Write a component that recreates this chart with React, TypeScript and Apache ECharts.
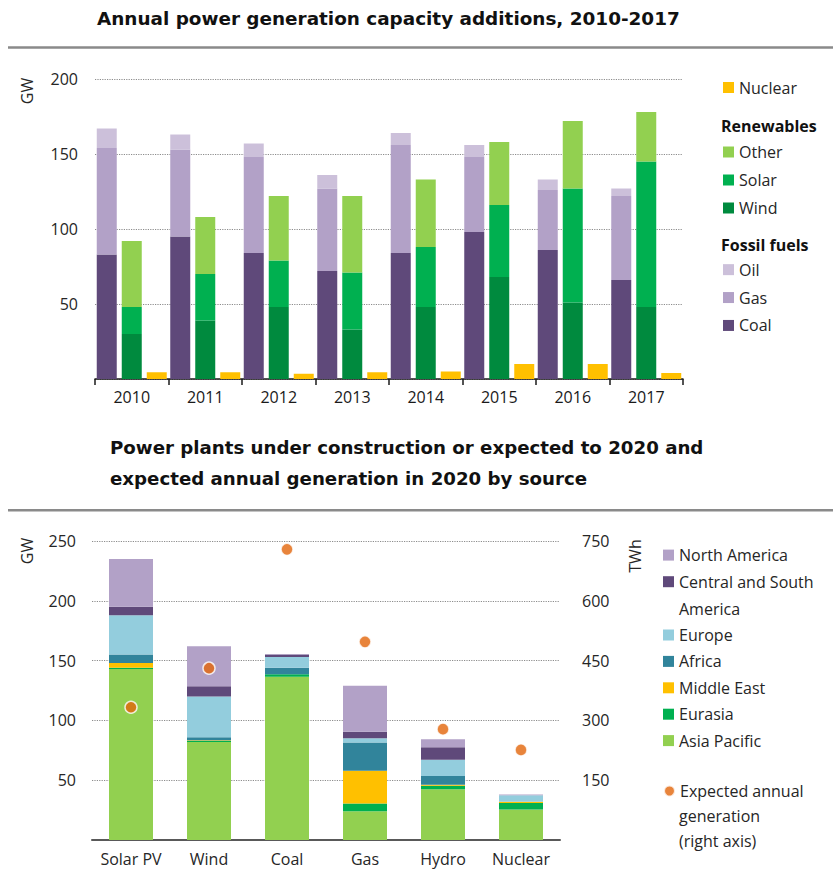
import React, { useEffect, useRef } from "react";
import * as echarts from "echarts";

// Annual capacity additions (GW)
const years = ["2010", "2011", "2012", "2013", "2014", "2015", "2016", "2017"];
const coal = [83, 95, 84, 72, 84, 98, 86, 66];
const gas = [71, 58, 64, 55, 72, 50, 40, 56];
const oil = [13, 10, 9, 9, 8, 8, 7, 5];
const wind = [30, 39, 48, 33, 48, 68, 51, 48];
const solar = [18, 31, 31, 38, 40, 48, 76, 97];
const otherRenewables = [44, 38, 43, 51, 45, 42, 45, 33];
const nuclear = [4.5, 4.5, 3.5, 4.5, 5, 10, 10, 4];
const topTicks = [0, 50, 100, 150, 200];

// Capacity under construction to 2020 by region (GW) and expected 2020 generation (TWh)
const sources = ["Solar PV", "Wind", "Coal", "Gas", "Hydro", "Nuclear"];
const asiaPacific = [143, 82, 136.5, 24, 42.5, 25.5];
const eurasia = [1, 1, 2, 6.5, 2.8, 5.5];
const middleEast = [4, 0.5, 0, 27.5, 0.8, 1];
const africa = [7, 2.5, 5.5, 23.5, 7.5, 0];
const europe = [33, 34, 9, 3.5, 13.4, 5.5];
const centralSouthAmerica = [7, 8.5, 2, 5.5, 10.6, 0];
const northAmerica = [40, 33.5, 0.5, 38.5, 6.7, 0.5];
const generation2020 = [333, 431, 729, 497, 278, 226];
const gwTicks = [0, 50, 100, 150, 200, 250];
const twhTicks = [0, 150, 300, 450, 600, 750];

const FONT = "Open Sans";
const TITLE_FONT = "DejaVu Sans";
const TEXT = "#262626";
const GRID_LINE = { show: true, lineStyle: { type: "dotted" as const, color: "#8c8c8c", width: 1.2 } };

const C = {
  coal: "#5F497A",
  gas: "#B2A1C7",
  oil: "#CCC0DA",
  wind: "#008A3E",
  solar: "#00B050",
  other: "#92D050",
  nuclear: "#FFC000",
  northAmerica: "#B2A1C7",
  csa: "#5F497A",
  europe: "#93CDDD",
  africa: "#31849B",
  middleEast: "#FFC000",
  eurasia: "#00B050",
  asiaPacific: "#92D050",
  generation: "#E2650A",
};

const CSA_NAME = "Central and South America";
const GEN_NAME = "Expected annual generation (right axis)";

function legendBlock(data: string[], top: number, lineHeight: number, icon = "rect") {
  return {
    data,
    orient: "vertical",
    left: 663,
    top,
    padding: 0,
    itemGap: 0,
    itemWidth: 11,
    itemHeight: 11,
    icon,
    selectedMode: false,
    textStyle: { fontFamily: FONT, fontSize: 16, color: TEXT, lineHeight },
    formatter: (name: string) =>
      name === CSA_NAME ? "Central and South" : name === GEN_NAME ? "Expected annual" : name,
  };
}

function topLegend(data: string[], top: number, lineHeight: number) {
  return { ...legendBlock(data, top, lineHeight), left: 723 };
}

export default function App() {
  const ref = useRef<HTMLDivElement>(null);

  useEffect(() => {
    document.body.style.margin = "0";
    if (!ref.current) return;
    const chart = echarts.init(ref.current, null, { renderer: "svg" });

    const topBar = (name: string, stack: string, data: number[], color: string) => ({
      name,
      type: "bar",
      stack,
      data,
      xAxisIndex: 0,
      yAxisIndex: 0,
      barWidth: 20,
      barGap: "25%",
      itemStyle: { color },
    });

    const regionBar = (name: string, data: number[], color: string) => ({
      name,
      type: "bar",
      stack: "capacity",
      data,
      xAxisIndex: 1,
      yAxisIndex: 1,
      barWidth: 44,
      itemStyle: { color },
    });

    chart.setOption({
      animation: false,
      textStyle: { fontFamily: FONT },
      title: [
        {
          text: "Annual power generation capacity additions, 2010-2017",
          left: 97,
          top: 5,
          padding: 0,
          textStyle: { fontFamily: TITLE_FONT, fontSize: 18.4, fontWeight: "bold", color: "#111", lineHeight: 26 },
        },
        {
          text: "Power plants under construction or expected to 2020 and\nexpected annual generation in 2020 by source",
          left: 110,
          top: 432,
          padding: 0,
          textStyle: { fontFamily: TITLE_FONT, fontSize: 18.2, fontWeight: "bold", color: "#111", lineHeight: 31 },
        },
      ],
      legend: [
        topLegend(["Nuclear"], 73.5, 28),
        topLegend(["Other", "Solar", "Wind"], 138, 28),
        topLegend(["Oil", "Gas", "Coal"], 255.7, 27.9),
        legendBlock(["North America", CSA_NAME], 541.8, 26.6),
        legendBlock(["Europe", "Africa", "Middle East", "Eurasia", "Asia Pacific"], 621.8, 26.4),
        legendBlock([GEN_NAME], 778, 26, "circle"),
      ],
      grid: [
        { left: 95, right: 150, top: 79, bottom: 493 },
        { left: 92, right: 273, top: 541, bottom: 32 },
      ],
      xAxis: [
        {
          type: "category",
          gridIndex: 0,
          data: years,
          axisLine: { lineStyle: { color: "#1a1a1a", width: 1.5 } },
          axisTick: { show: true, length: 6, lineStyle: { color: "#1a1a1a", width: 1.5 } },
          axisLabel: { interval: 0, fontSize: 16, color: "#1a1a1a", margin: 10 },
        },
        {
          type: "category",
          gridIndex: 1,
          data: sources,
          axisLine: { lineStyle: { color: "#595959", width: 2 } },
          axisTick: { show: false },
          axisLabel: { interval: 0, fontSize: 16, color: TEXT, margin: 11 },
        },
      ],
      yAxis: [
        {
          type: "value",
          gridIndex: 0,
          min: topTicks[0],
          max: topTicks[topTicks.length - 1],
          interval: 50,
          axisLine: { show: false },
          axisTick: { show: false },
          axisLabel: { fontSize: 16, color: TEXT, margin: 17, showMinLabel: false },
          splitLine: GRID_LINE,
        },
        {
          type: "value",
          gridIndex: 1,
          min: gwTicks[0],
          max: gwTicks[gwTicks.length - 1],
          interval: 50,
          axisLine: { show: false },
          axisTick: { show: false },
          axisLabel: { fontSize: 16, color: TEXT, margin: 16, showMinLabel: false },
          splitLine: GRID_LINE,
        },
        {
          type: "value",
          gridIndex: 1,
          position: "right",
          min: twhTicks[0],
          max: twhTicks[twhTicks.length - 1],
          interval: 150,
          axisLine: { show: false },
          axisTick: { show: false },
          axisLabel: { fontSize: 16, color: TEXT, margin: 22, showMinLabel: false },
          splitLine: { show: false },
        },
      ],
      series: [
        topBar("Coal", "fossil", coal, C.coal),
        topBar("Gas", "fossil", gas, C.gas),
        topBar("Oil", "fossil", oil, C.oil),
        topBar("Wind", "renewables", wind, C.wind),
        topBar("Solar", "renewables", solar, C.solar),
        topBar("Other", "renewables", otherRenewables, C.other),
        topBar("Nuclear", "nuclear", nuclear, C.nuclear),
        regionBar("Asia Pacific", asiaPacific, C.asiaPacific),
        regionBar("Eurasia", eurasia, C.eurasia),
        regionBar("Middle East", middleEast, C.middleEast),
        regionBar("Africa", africa, C.africa),
        regionBar("Europe", europe, C.europe),
        regionBar(CSA_NAME, centralSouthAmerica, C.csa),
        regionBar("North America", northAmerica, C.northAmerica),
        {
          name: GEN_NAME,
          type: "scatter",
          xAxisIndex: 1,
          yAxisIndex: 2,
          data: generation2020,
          symbol: "circle",
          symbolSize: 12,
          itemStyle: { color: C.generation, borderColor: "#fff", borderWidth: 1.5 },
          z: 5,
        },
      ],
      graphic: [
        { type: "line", shape: { x1: 8, y1: 47.6, x2: 833, y2: 47.6 }, style: { stroke: "#8a8a8a", lineWidth: 2.5 } },
        { type: "line", shape: { x1: 8, y1: 510.3, x2: 833, y2: 510.3 }, style: { stroke: "#8a8a8a", lineWidth: 2.5 } },
        {
          type: "text", x: 27, y: 91, rotation: Math.PI / 2,
          style: { text: "GW", font: `16px "${FONT}"`, fill: TEXT, align: "center", verticalAlign: "middle" },
        },
        {
          type: "text", x: 27, y: 551, rotation: Math.PI / 2,
          style: { text: "GW", font: `16px "${FONT}"`, fill: TEXT, align: "center", verticalAlign: "middle" },
        },
        {
          type: "text", x: 635, y: 556, rotation: Math.PI / 2,
          style: { text: "TWh", font: `16px "${FONT}"`, fill: TEXT, align: "center", verticalAlign: "middle" },
        },
        {
          type: "text", x: 721, y: 126,
          style: { text: "Renewables", font: `bold 16px "${FONT}"`, fill: "#111", verticalAlign: "middle" },
        },
        {
          type: "text", x: 721, y: 245,
          style: { text: "Fossil fuels", font: `bold 16px "${FONT}"`, fill: "#111", verticalAlign: "middle" },
        },
        {
          type: "text", x: 679, y: 608.5,
          style: { text: "America", font: `16px "${FONT}"`, fill: TEXT, verticalAlign: "middle" },
        },
        {
          type: "text", x: 679, y: 816,
          style: { text: "generation", font: `16px "${FONT}"`, fill: TEXT, verticalAlign: "middle" },
        },
        {
          type: "text", x: 679, y: 841,
          style: { text: "(right axis)", font: `16px "${FONT}"`, fill: TEXT, verticalAlign: "middle" },
        },
      ],
    });

    return () => chart.dispose();
  }, []);

  return <div ref={ref} style={{ width: 833, height: 872 }} />;
}
